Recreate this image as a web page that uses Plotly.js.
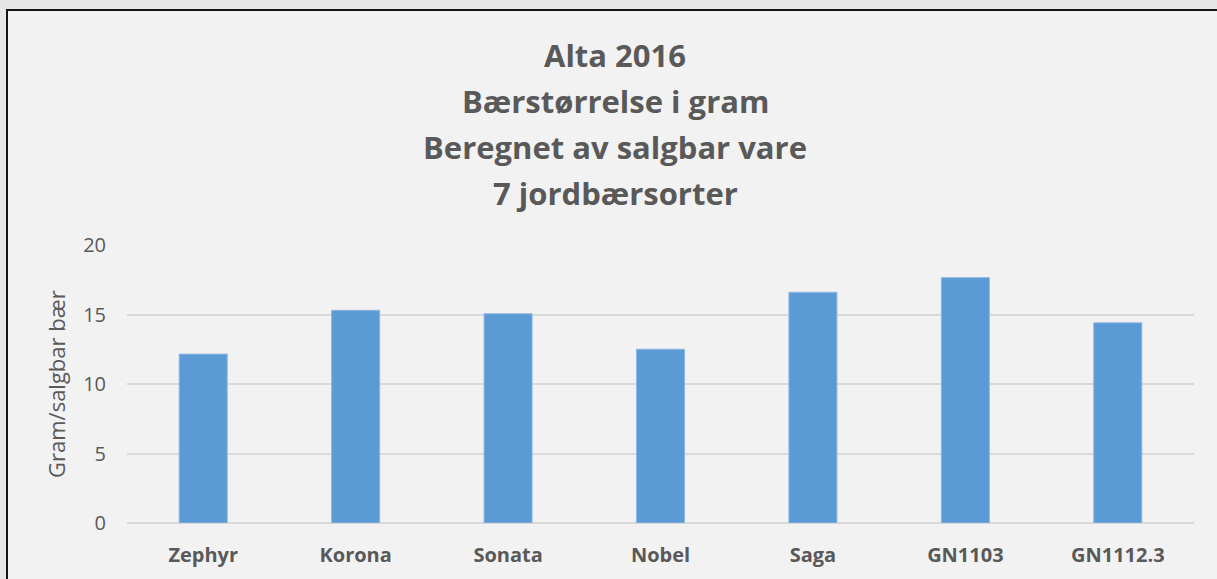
<!DOCTYPE html>
<html>
<head>
<meta charset="utf-8">
<script src="https://cdn.plot.ly/plotly-3.0.1.min.js"></script>
<style>
    html, body { margin: 0; padding: 0; background: #e6e6e6; }
    #chart {
        position: absolute;
        left: 6px;
        top: 9px;
        width: 1209px;
        height: 568px;
        border-left: 2px solid #141414;
        border-top: 2px solid #141414;
    }
</style>
</head>
<body>
<div id="chart"></div>
<script>
// Bærstørrelse per sort (gram per salgbart bær)
const sorter = ['Zephyr', 'Korona', 'Sonata', 'Nobel', 'Saga', 'GN1103', 'GN1112.3'];
const gramPerBaer = [12.15, 15.3, 15.05, 12.5, 16.6, 17.65, 14.4];
const tittelLinjer = ['Alta 2016', 'Bærstørrelse i gram', 'Beregnet av salgbar vare', '7 jordbærsorter'];
const yTittel = 'Gram/salgbar bær';
const yTicks = [0, 5, 10, 15, 20];

const W = 1209, H = 568;
const margin = { l: 119, r: 23, t: 234, b: 56 };
const plotW = W - margin.l - margin.r;
const plotH = H - margin.t - margin.b;

// pixel (inside the div) -> paper coords
function paperY(py) {
    return (margin.t + plotH - py) / plotH;
}
function paperX(px) {
    return (px - margin.l) / plotW;
}

const textColor = '#595959';
const fontFamily = '"Open Sans", Lato, sans-serif';

const trace = {
    x: sorter,
    y: gramPerBaer,
    type: 'bar',
    marker: {
        color: '#5b9bd5',
        line: { color: '#8db6e0', width: 1 }
    },
    hoverinfo: 'x+y'
};

// title lines are drawn one by one, the spacing is wider than plotly's <br>
// (centered on the whole chart area, not on the plot)
const titleRows = [43.5, 90, 136, 182];
const annotations = tittelLinjer.map((txt, i) => ({
    text: '<b>' + txt + '</b>',
    xref: 'paper',
    yref: 'paper',
    x: paperX(607),
    y: paperY(titleRows[i]),
    xanchor: 'center',
    yanchor: 'middle',
    showarrow: false,
    font: { family: fontFamily, size: 31, color: textColor }
}));

annotations.push({
    text: yTittel,
    xref: 'paper',
    yref: 'paper',
    x: paperX(48),
    y: 0.5,
    xanchor: 'center',
    yanchor: 'middle',
    textangle: -90,
    showarrow: false,
    font: { family: fontFamily, size: 22, color: textColor }
});

const layout = {
    width: W,
    height: H,
    margin: margin,
    paper_bgcolor: '#f2f2f2',
    plot_bgcolor: '#f2f2f2',
    font: { family: fontFamily, color: textColor },
    showlegend: false,
    bargap: 0.685,
    annotations: annotations,
    xaxis: {
        type: 'category',
        tickfont: { family: fontFamily, size: 20, color: textColor, weight: 'bold' },
        ticks: '',
        ticklabelstandoff: 18,
        showline: false,
        showgrid: false,
        zeroline: false
    },
    yaxis: {
        range: [0, 20],
        tickvals: yTicks,
        tickfont: { family: fontFamily, size: 20, color: textColor },
        ticks: '',
        ticklabelstandoff: 20,
        gridcolor: '#d9d9d9',
        gridwidth: 1.5,
        zeroline: true,
        zerolinecolor: '#d9d9d9',
        zerolinewidth: 1.5,
        showline: false
    }
};

const config = { displayModeBar: false };

Plotly.newPlot('chart', [trace], layout, config);
</script>
</body>
</html>
